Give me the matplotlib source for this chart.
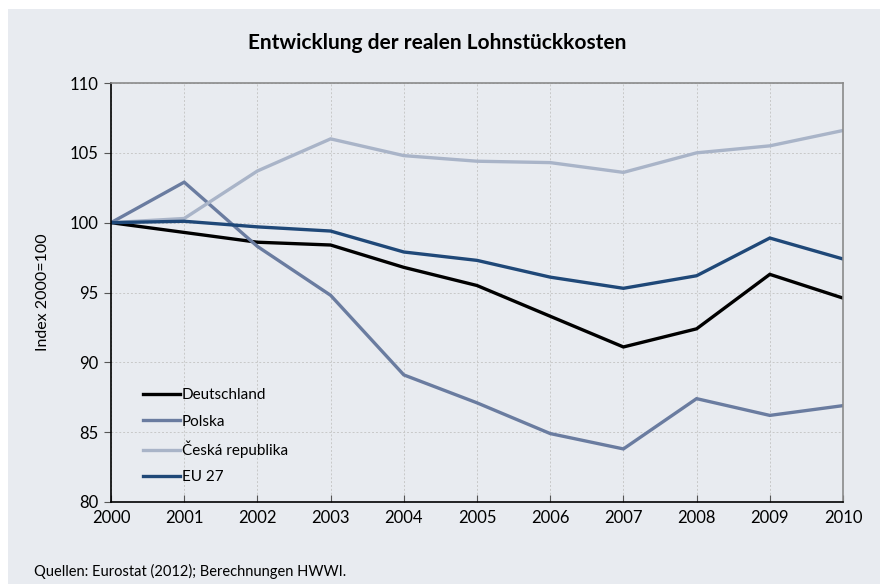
import matplotlib.pyplot as plt
from matplotlib.patches import Rectangle

plt.rcParams['font.family'] = ['Lato', 'DejaVu Sans']

# Daten (Index 2000=100)
jahre = list(range(2000, 2011))
deutschland = [100.0, 99.3, 98.6, 98.4, 96.8, 95.5, 93.3, 91.1, 92.4, 96.3, 94.6]
polska = [100.0, 102.9, 98.3, 94.8, 89.1, 87.1, 84.9, 83.8, 87.4, 86.2, 86.9]
cesko = [100.0, 100.3, 103.7, 106.0, 104.8, 104.4, 104.3, 103.6, 105.0, 105.5, 106.6]
eu27 = [100.0, 100.1, 99.7, 99.4, 97.9, 97.3, 96.1, 95.3, 96.2, 98.9, 97.4]

namen = ['Deutschland', 'Polska', 'Česká republika', 'EU 27']
farben = ['#000000', '#6a7ca0', '#a9b4c8', '#1f4878']
bg = '#e8ebf0'

fig = plt.figure(figsize=(8.8, 5.84), dpi=100)
fig.patch.set_facecolor('white')
# grauer Hintergrund mit weissem Rand oben/links
fig.patches.append(Rectangle((8 / 880, 0), 1, 1 - 9 / 584, transform=fig.transFigure,
                             facecolor=bg, edgecolor='none', zorder=-10))

ax = fig.add_axes([111 / 880, 1 - 502 / 584, (843 - 111) / 880, (502 - 83) / 584])
ax.set_facecolor(bg)

for werte, name, farbe in zip([deutschland, polska, cesko, eu27], namen, farben):
    ax.plot(jahre, werte, color=farbe, lw=2.4, label=name, solid_joinstyle='miter')

ax.set_xlim(2000, 2010)
ax.set_ylim(80, 110)
ax.set_xticks(jahre)
ax.set_yticks(range(80, 111, 5))
ax.grid(True, color='#c8c8c8', linestyle=(0, (2, 2)), lw=0.7)
ax.set_axisbelow(True)

for s in ['left', 'bottom']:
    ax.spines[s].set_color('black')
    ax.spines[s].set_linewidth(1.2)
for s in ['top', 'right']:
    ax.spines[s].set_color('#8a8a8a')
    ax.spines[s].set_linewidth(1.2)

ax.tick_params(axis='y', direction='out', length=5, color='#555555', labelsize=12, pad=4)
ax.tick_params(axis='x', direction='in', length=5, color='#555555', labelsize=12, pad=6)
ax.set_ylabel('Index 2000=100', fontsize=11.5, labelpad=14)

ax.legend(loc='lower left', bbox_to_anchor=(0.025, 0.009), frameon=False, fontsize=11,
          handlelength=2.4, handletextpad=0.15, labelspacing=0.8)

fig.text(0.497, 1 - 43 / 584, 'Entwicklung der realen Lohnstückkosten', ha='center', va='center',
         fontsize=15, fontweight='bold')
fig.text(34 / 880, 1 - 571 / 584, 'Quellen: Eurostat (2012); Berechnungen HWWI.', ha='left',
         va='center', fontsize=10.5)

fig.savefig('out.png', dpi=100, facecolor=fig.get_facecolor())
